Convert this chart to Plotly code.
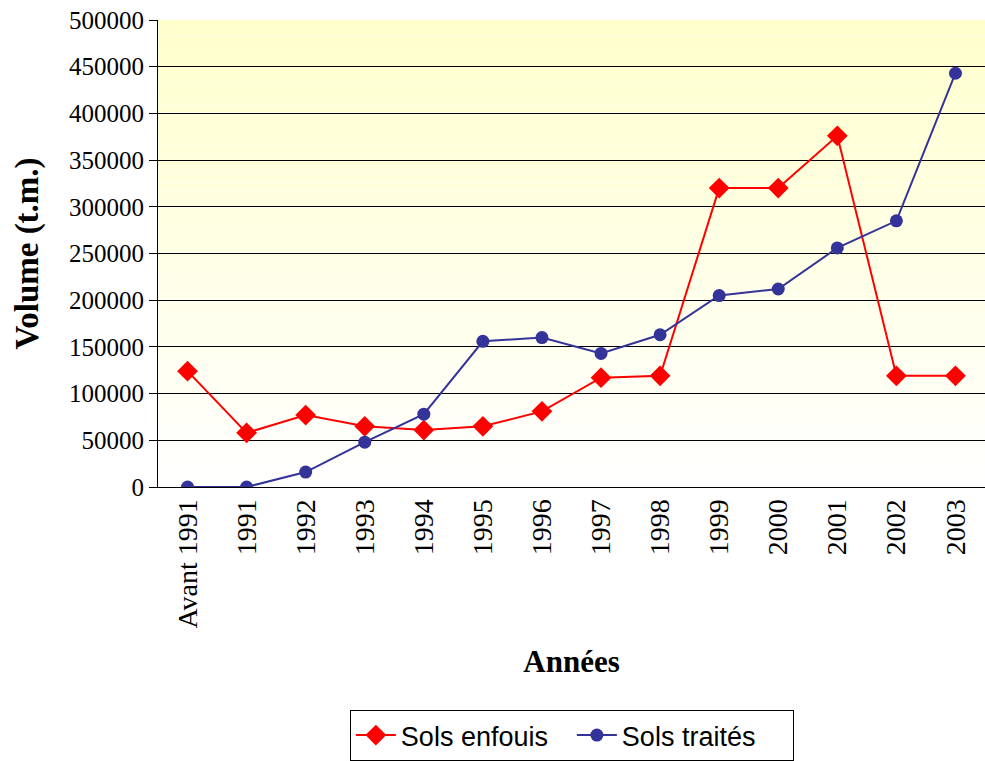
import plotly.graph_objects as go

categories = ["Avant 1991", "1991", "1992", "1993", "1994", "1995", "1996",
              "1997", "1998", "1999", "2000", "2001", "2002", "2003"]
sols_enfouis = [124000, 58000, 77000, 65000, 61000, 65000, 81000,
                117000, 119000, 320000, 320000, 376000, 119000, 119000]
sols_traites = [0, 0, 16000, 48000, 78000, 156000, 160000,
                143000, 163000, 205000, 212000, 256000, 285000, 443000]
y_ticks = [0, 50000, 100000, 150000, 200000, 250000, 300000, 350000, 400000, 450000, 500000]

SERIF = "Liberation Serif, Times New Roman, serif"

fig = go.Figure()
fig.add_trace(go.Scatter(
    x=categories, y=sols_enfouis, name="Sols enfouis", mode="lines+markers",
    line=dict(color="#FF0000", width=2),
    marker=dict(symbol="diamond", size=16, color="#FF0000"),
))
fig.add_trace(go.Scatter(
    x=categories, y=sols_traites, name="Sols traités", mode="lines+markers",
    line=dict(color="#333399", width=2),
    marker=dict(symbol="circle", size=13, color="#333399"),
))

# background gradient (light yellow at top -> white at bottom)
n = 60
shapes = []
for i in range(n):
    t = (i + 0.5) / n  # 0 bottom, 1 top
    b = int(round(255 - (255 - 204) * t))
    shapes.append(dict(type="rect", xref="x domain", yref="y domain",
                       x0=0, x1=1, y0=i / n, y1=(i + 1) / n,
                       fillcolor=f"rgb(255,255,{b})", line=dict(width=0),
                       layer="below"))

fig.update_layout(
    width=985, height=761,
    margin=dict(l=158, r=0, t=20, b=273),
    paper_bgcolor="white",
    plot_bgcolor="rgba(0,0,0,0)",
    shapes=shapes,
    font=dict(family=SERIF, color="black", size=25),
    showlegend=True,
    legend=dict(orientation="h", x=0.232, xanchor="left", y=-0.478, yanchor="top",
                bordercolor="black", borderwidth=1, bgcolor="white",
                font=dict(family="Liberation Sans", size=27, color="black"),
                entrywidth=166, entrywidthmode="pixels", itemwidth=40),
)
fig.update_xaxes(
    type="category", range=[-0.5, 13.5], tickangle=-90,
    tickfont=dict(family=SERIF, size=28),
    showline=True, linecolor="black", linewidth=1, showgrid=False,
    ticks="", title=dict(text="<b>Années</b>", font=dict(family=SERIF, size=31), standoff=22),
)
fig.update_yaxes(
    range=[0, 500000], tickvals=y_ticks, ticktext=[str(v) for v in y_ticks],
    tickfont=dict(family=SERIF, size=25),
    showline=True, linecolor="black", linewidth=1,
    showgrid=True, gridcolor="black", gridwidth=1, zeroline=False,
    ticks="outside", ticklen=8, tickcolor="black",
    title=dict(text="<b>Volume (t.m.)</b>", font=dict(family=SERIF, size=33), standoff=20),
)

fig.write_html("out.html")
